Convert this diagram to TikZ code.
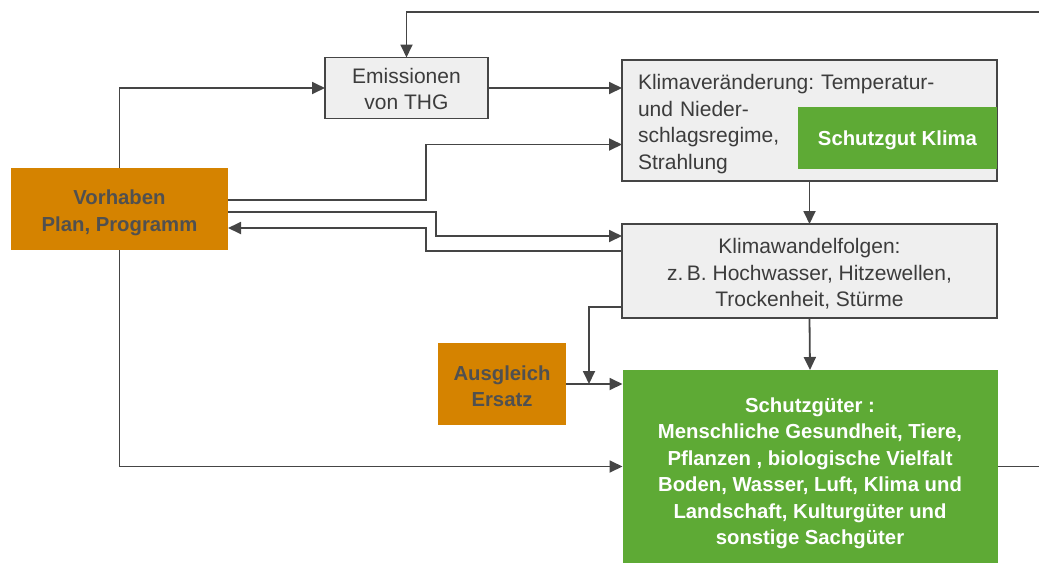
\documentclass[tikz,border=0pt]{standalone}
\usepackage{fontspec}
\setmainfont{Liberation Sans}
\usepackage{tikz}
\usetikzlibrary{arrows.meta, calc}

\definecolor{linegray}{HTML}{454545}
\definecolor{boxgray}{HTML}{EFEFEF}
\definecolor{textgray}{HTML}{3C3C3C}
\definecolor{planorange}{HTML}{D58300}
\definecolor{gutgreen}{HTML}{5EAA35}
\newcommand{\plainfont}{\fontsize{21}{26.5}\selectfont}
\newcommand{\boldfont}{\fontsize{20.3}{26.5}\selectfont\bfseries}
\frenchspacing

\begin{document}
\begin{tikzpicture}[x=1pt, y=-1pt, >={Triangle[length=13pt,width=12pt]},
  flow/.style={->, draw=linegray, line width=1.8pt},
  graybox/.style={draw=linegray, line width=1.8pt, fill=boxgray, text=textgray,
    font=\plainfont, align=center, inner sep=0pt, outer sep=0pt},
  orangebox/.style={fill=planorange, text=textgray!90!white, font=\boldfont,
    align=center, inner sep=0pt, outer sep=0pt},
  greenbox/.style={fill=gutgreen, text=white, font=\boldfont,
    align=center, inner sep=0pt, outer sep=0pt}]
  \useasboundingbox (0,0) rectangle (1039,563);

  % boxes
  \node[graybox, minimum width=163pt, minimum height=61pt, text height=43.8pt] (emis) at (406.5,88) {Emissionen\\von THG};
  \node[graybox, text width=343pt, inner xsep=16pt, minimum height=121pt, align=left, text height=22.3pt] (klima) at (809.5,120.5)
    {Klimaveränderung: Temperatur-\\und Nieder-\\schlagsregime,\\Strahlung};
  \node[greenbox, minimum width=199pt, minimum height=62pt, text height=18.8pt] (gutklima) at (897.5,138) {Schutzgut Klima};
  \node[graybox, minimum width=375pt, minimum height=94pt, text height=74.3pt] (folgen) at (809.5,271)
    {Klimawandelfolgen:\\z.\,B. Hochwasser, Hitzewellen,\\Trockenheit, Stürme};
  \node[orangebox, minimum width=217pt, minimum height=82pt, text height=48.3pt] (vorh) at (119.5,209) {Vorhaben\\Plan, Programm};
  \node[orangebox, minimum width=128pt, minimum height=82pt, text height=45.3pt] (ausgl) at (502,384) {Ausgleich\\Ersatz};
  \node[greenbox, minimum width=375pt, minimum height=193pt, text height=160.3pt] (schutz) at (810,466.5)
    {Schutzgüter :\\Menschliche Gesundheit, Tiere,\\Pflanzen , biologische Vielfalt\\Boden, Wasser, Luft, Klima und\\Landschaft, Kulturgüter und\\sonstige Sachgüter};

  % free ends
  \coordinate (topR) at (1039,12);
  \path (schutz.east) ++(42,0) coordinate (outR);
  \path (ausgl.east) ++(23,0) coordinate (merge);

  % connectors
  \draw[flow] (topR) -| (emis.north);
  \draw[flow] (vorh.north) |- (emis.west);
  \draw[flow] (emis.east) -- (emis.east -| klima.west);
  \draw[flow] ([yshift=9pt]vorh.east) -- ++(198,0) |- ([yshift=-24pt]klima.west);
  \draw[flow] ([yshift=-3pt]vorh.east) -- ++(208,0) |- ([yshift=35pt]folgen.west);
  \draw[flow] ([yshift=20pt]folgen.west) -- ++(-196,0) |- ([yshift=-19pt]vorh.east);
  \draw[flow] (klima.south) -- (folgen.north);
  \draw[flow] (folgen.south) -- (schutz.north);
  \draw[flow] ([yshift=-36pt]folgen.west) -| (merge);
  \draw[flow] (ausgl.east) -- (ausgl.east -| schutz.west);
  \draw[flow] (vorh.south) |- (schutz.west);
  \draw[draw=linegray, line width=1.8pt] (schutz.east) -- (outR);
\end{tikzpicture}
\end{document}
